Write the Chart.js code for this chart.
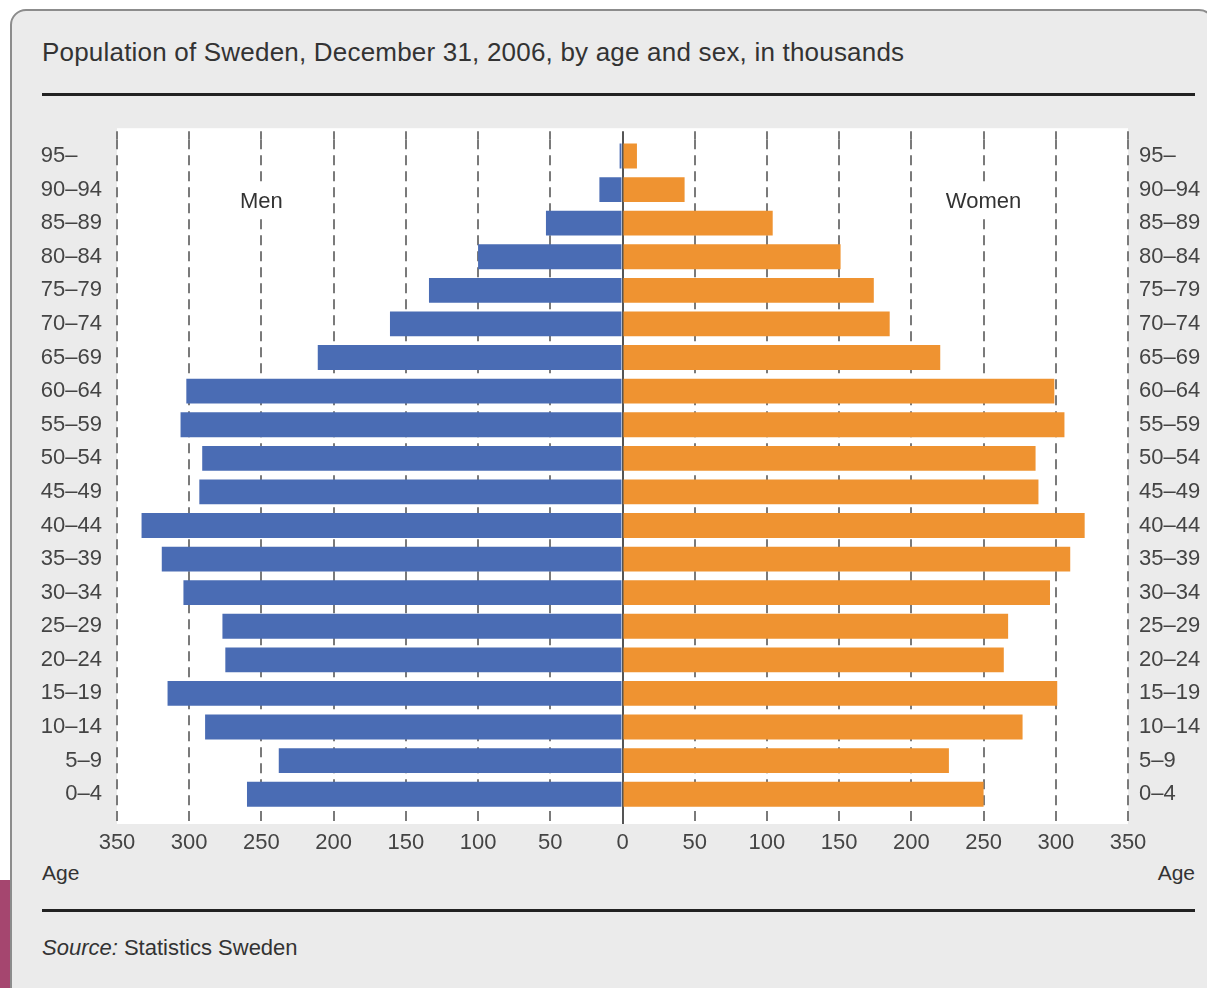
<!DOCTYPE html>
<html>
<head>
<meta charset="utf-8">
<script src="https://cdn.jsdelivr.net/npm/chart.js@4.4.1/dist/chart.umd.min.js"></script>
<style>
    html, body { margin: 0; padding: 0; background: #fff; }
    body { width: 1207px; height: 988px; position: relative; overflow: hidden; font-family: 'Liberation Sans', Arial, sans-serif; color: #333; }
    .frame { position: absolute; left: 10px; top: 9px; width: 1205px; height: 995px; background: #ebebeb; border: 2px solid #8c8c8c; border-radius: 16px; box-sizing: border-box; }
    .accent { position: absolute; left: 0; top: 880px; width: 10px; height: 108px; background: #a5466f; }
    .title { position: absolute; left: 42px; top: 37px; font-size: 26px; line-height: 30px; white-space: nowrap; letter-spacing: 0.2px; }
    .rule { position: absolute; left: 42px; width: 1153px; height: 3px; background: #222; }
    .age { position: absolute; top: 861px; font-size: 21px; line-height: 24px; }
    .source { position: absolute; left: 42px; top: 935px; font-size: 22px; line-height: 26px; }
    .chart-box { position: absolute; left: 12px; top: 119px; width: 1190px; height: 734px; }
</style>
</head>
<body>
<div class="frame"></div>
<div class="accent"></div>
<div class="title">Population of Sweden, December 31, 2006, by age and sex, in thousands</div>
<div class="rule" style="top:93px"></div>
<div class="chart-box"><canvas id="pyramid" width="1190" height="734"></canvas></div>
<div class="age" style="left:42px">Age</div>
<div class="age" style="right:12px">Age</div>
<div class="rule" style="top:909px"></div>
<div class="source"><i>Source:</i> Statistics Sweden</div>

<script>
// Age groups, oldest at the top
const ageGroups = ['95–', '90–94', '85–89', '80–84', '75–79', '70–74', '65–69', '60–64', '55–59', '50–54',
    '45–49', '40–44', '35–39', '30–34', '25–29', '20–24', '15–19', '10–14', '5–9', '0–4'];

// Thousands of people
const men = [2, 16, 53, 100, 134, 161, 211, 302, 306, 291, 293, 333, 319, 304, 277, 275, 315, 289, 238, 260];
const women = [10, 43, 104, 151, 174, 185, 220, 299, 306, 286, 288, 320, 310, 296, 267, 264, 301, 277, 226, 250];

const axisMax = 350;
const axisStep = 50;

const GRID = '#7a7a7a';
const DASH = [10, 6];
const tickFont = { size: 22, family: "'Liberation Sans', Arial, sans-serif" };

// white plot background, slightly taller than the bar area
const plotBackdrop = {
    id: 'plotBackdrop',
    beforeDraw(chart) {
        const { ctx, chartArea } = chart;
        ctx.save();
        ctx.fillStyle = '#ffffff';
        ctx.fillRect(chartArea.left, chartArea.top - 11, chartArea.right - chartArea.left, chartArea.bottom - chartArea.top + 24);
        ctx.restore();
    }
};

// solid line at zero
const zeroLine = {
    id: 'zeroLine',
    beforeDatasetsDraw(chart) {
        const { ctx, chartArea, scales } = chart;
        const x = Math.round(scales.x.getPixelForValue(0));
        ctx.save();
        ctx.strokeStyle = '#555';
        ctx.lineWidth = 2;
        ctx.beginPath();
        ctx.moveTo(x, chartArea.top - 8);
        ctx.lineTo(x, chartArea.bottom + 13);
        ctx.stroke();
        ctx.restore();
    }
};

// "Men" / "Women" captions
const sexLabels = {
    id: 'sexLabels',
    afterDatasetsDraw(chart) {
        const { ctx, scales } = chart;
        const y = scales.y.getPixelForValue(1) + (scales.y.getPixelForValue(2) - scales.y.getPixelForValue(1)) * 0.36;
        ctx.save();
        ctx.font = "22px 'Liberation Sans', Arial, sans-serif";
        ctx.textAlign = 'center';
        ctx.textBaseline = 'middle';
        [['Men', -250], ['Women', 250]].forEach(([txt, v]) => {
            const x = scales.x.getPixelForValue(v);
            const w = ctx.measureText(txt).width + 10;
            ctx.fillStyle = '#ffffff';
            ctx.fillRect(x - w / 2, y - 16, w, 32);
            ctx.fillStyle = '#333';
            ctx.fillText(txt, x, y);
        });
        ctx.restore();
    }
};

new Chart(document.getElementById('pyramid'), {
    type: 'bar',
    data: {
        labels: ageGroups,
        datasets: [
            {
                label: 'Men',
                data: men.map(v => -v),
                backgroundColor: '#4a6cb4',
                categoryPercentage: 1,
                barPercentage: 0.74
            },
            {
                label: 'Women',
                data: women,
                backgroundColor: '#ef9331',
                categoryPercentage: 1,
                barPercentage: 0.74
            }
        ]
    },
    options: {
        indexAxis: 'y',
        responsive: false,
        animation: false,
        layout: { padding: 0 },
        plugins: {
            legend: { display: false },
            tooltip: { enabled: false }
        },
        scales: {
            x: {
                type: 'linear',
                position: 'bottom',
                stacked: true,
                min: -axisMax,
                max: axisMax,
                ticks: {
                    stepSize: axisStep,
                    callback: v => Math.abs(v),
                    font: tickFont,
                    color: '#444',
                    padding: 6
                },
                grid: {
                    color: c => (c.tick && c.tick.value === 0) ? 'rgba(0,0,0,0)' : GRID,
                    lineWidth: 2,
                    drawTicks: true,
                    tickLength: 13,
                    tickColor: c => (c.tick && c.tick.value === 0) ? 'rgba(0,0,0,0)' : GRID,
                    tickBorderDash: DASH
                },
                border: { display: false, dash: DASH },
                afterFit: s => { s.height = 42; }
            },
            xTop: {
                type: 'linear',
                position: 'top',
                min: -axisMax,
                max: axisMax,
                ticks: { stepSize: axisStep, display: false },
                grid: {
                    drawOnChartArea: false,
                    color: c => (c.tick && c.tick.value === 0) ? 'rgba(0,0,0,0)' : GRID,
                    lineWidth: 2,
                    tickLength: 8,
                    tickBorderDash: DASH
                },
                border: { display: false },
                afterFit: s => { s.height = 8; }
            },
            y: {
                position: 'left',
                stacked: true,
                grid: { display: false },
                border: { display: false },
                ticks: {
                    font: tickFont,
                    color: '#444',
                    padding: 7,
                    callback: function (v) {
                        const lbl = this.getLabelForValue(v);
                        return lbl.endsWith('–') ? lbl + '\u00a0\u00a0\u00a0\u00a0' : lbl;
                    }
                },
                afterFit: s => { s.width = 105; }
            },
            yRight: {
                type: 'category',
                position: 'right',
                labels: ageGroups,
                offset: true,
                grid: { display: false },
                border: { display: false },
                ticks: { font: tickFont, color: '#444', padding: 3 },
                afterFit: s => { s.width = 74; }
            }
        }
    },
    plugins: [plotBackdrop, zeroLine, sexLabels]
});
</script>
</body>
</html>
